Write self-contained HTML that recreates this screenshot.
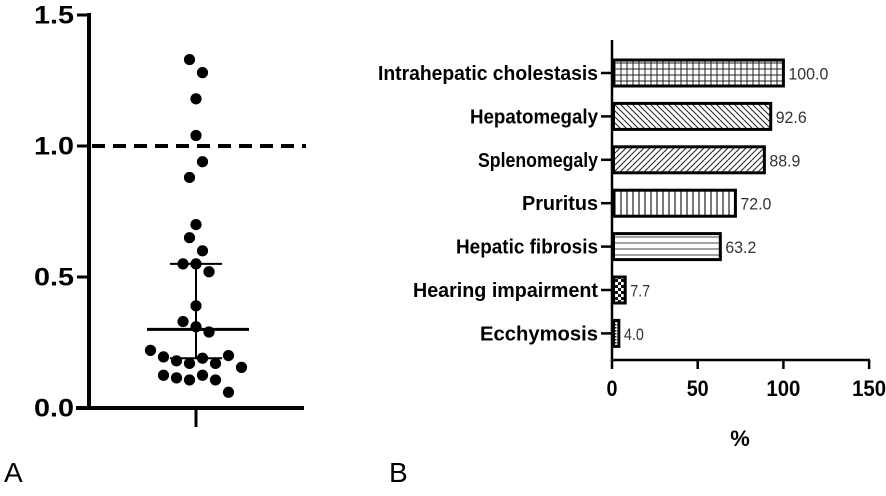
<!DOCTYPE html>
<html><head><meta charset="utf-8"><style>
html,body{margin:0;padding:0;background:#fff;}
svg{display:block;font-family:"Liberation Sans",Arial,sans-serif;}
</style></head><body>
<svg id="chart" width="886" height="496" viewBox="0 0 886 496" xmlns="http://www.w3.org/2000/svg">
<defs>
<pattern id="p0" patternUnits="userSpaceOnUse" width="6" height="6"><rect width="6" height="6" fill="#fff"/><path d="M3 0V6M0 3H6" stroke="#222" stroke-width="1"/></pattern>
<pattern id="p1" patternUnits="userSpaceOnUse" width="6" height="6"><rect width="6" height="6" fill="#fff"/><path d="M0 0L6 6M-3 3L3 9M3 -3L9 3" stroke="#222" stroke-width="1"/></pattern>
<pattern id="p2" patternUnits="userSpaceOnUse" width="6" height="6"><rect width="6" height="6" fill="#fff"/><path d="M0 6L6 0M-3 3L3 -3M3 9L9 3" stroke="#222" stroke-width="1"/></pattern>
<pattern id="p3" patternUnits="userSpaceOnUse" width="6" height="6"><rect width="6" height="6" fill="#fff"/><path d="M3 0V6" stroke="#222" stroke-width="1.2"/></pattern>
<pattern id="p4" patternUnits="userSpaceOnUse" width="6" height="6"><rect width="6" height="6" fill="#fff"/><path d="M0 3H6" stroke="#444" stroke-width="1"/></pattern>
<pattern id="p5" patternUnits="userSpaceOnUse" width="6" height="6"><rect width="6" height="6" fill="#fff"/><rect width="3" height="3" fill="#111"/><rect x="3" y="3" width="3" height="3" fill="#111"/></pattern>
<pattern id="p6" patternUnits="userSpaceOnUse" width="3" height="3"><rect width="3" height="3" fill="#fff"/><rect width="1.5" height="1.5" fill="#222"/></pattern>
</defs>
<g id="left"></g>
<g id="right"></g>
<text x="4" y="482" font-size="28">A</text>
<text x="389" y="482" font-size="28">B</text>
</svg>
<script>
// Panel A data
const dotValues = [1.33,1.28,1.18,1.04,0.94,0.88,0.70,0.65,0.60,0.55,0.55,0.52,0.39,0.33,0.31,0.29,0.22,0.195,0.18,0.17,0.19,0.17,0.20,0.155,0.125,0.115,0.107,0.125,0.107,0.06];
const dotCols = [-0.5,0.5,0,0,0.5,-0.5,0,-0.5,0.5,-1,0,1,0,-1,0,1,-3.5,-2.5,-1.5,-0.5,0.5,1.5,2.5,3.5,-2.5,-1.5,-0.5,0.5,1.5,2.5];
const medianValue = 0.30;
const q1Value = 0.19;
const q3Value = 0.55;
const refLineValue = 1.0;
const yTicksA = [0, 0.5, 1.0, 1.5];
const yTickLabelsA = ["0.0","0.5","1.0","1.5"];
// Panel B data
const categories = ["Intrahepatic cholestasis","Hepatomegaly","Splenomegaly","Pruritus","Hepatic fibrosis","Hearing impairment","Ecchymosis"];
const percents = [100.0,92.6,88.9,72.0,63.2,7.7,4.0];
const percentLabels = ["100.0","92.6","88.9","72.0","63.2","7.7","4.0"];
const xTicksB = [0,50,100,150];
const xTickLabelsB = ["0","50","100","150"];

const NS="http://www.w3.org/2000/svg";
function mk(parent,tag,attrs,text){const e=document.createElementNS(NS,tag);for(const k in attrs)e.setAttribute(k,attrs[k]);if(text!==undefined)e.textContent=text;parent.appendChild(e);return e;}

// ---- Panel A
const L=document.getElementById('left');
const yA=v=>408-v*262;
const cx=196, colStep=13;
let e;
e=mk(L,'line',{x1:89,y1:13,x2:89,y2:410,stroke:'#000','stroke-width':4});


e=mk(L,'line',{x1:76,y1:408,x2:304,y2:408,stroke:'#000','stroke-width':4});


e=mk(L,'line',{x1:cx,y1:408,x2:cx,y2:427,stroke:'#000','stroke-width':3});


yTicksA.forEach((t,i)=>{
  e=mk(L,'line',{x1:77,y1:yA(t),x2:89,y2:yA(t),stroke:'#000','stroke-width':3});
  
  
  e=mk(L,'text',{x:74,y:yA(t)+8.5,'text-anchor':'end','font-size':25,'font-weight':'bold',textLength:40,lengthAdjust:'spacingAndGlyphs'},yTickLabelsA[i]);
  
  
});
e=mk(L,'line',{x1:92,y1:yA(refLineValue),x2:306,y2:yA(refLineValue),stroke:'#000','stroke-width':4,'stroke-dasharray':'13 8'});


dotValues.forEach((v,i)=>{
  e=mk(L,'circle',{cx:cx+dotCols[i]*colStep,cy:yA(v),r:5.6,fill:'#000'});
  
  
});
e=mk(L,'line',{x1:cx,y1:yA(q3Value),x2:cx,y2:yA(q1Value),stroke:'#000','stroke-width':2});


[q1Value,q3Value].forEach(q=>{
  e=mk(L,'line',{x1:170,y1:yA(q),x2:222,y2:yA(q),stroke:'#000','stroke-width':2});
  
  
});
e=mk(L,'line',{x1:147,y1:yA(medianValue),x2:249,y2:yA(medianValue),stroke:'#000','stroke-width':3});



// ---- Panel B
const R=document.getElementById('right');
const xB=v=>612+v*1.714;
const yB=i=>73+i*43.4;
const barH=26;
e=mk(R,'line',{x1:612,y1:40,x2:612,y2:362,stroke:'#000','stroke-width':2.5});


e=mk(R,'line',{x1:611,y1:360,x2:870,y2:360,stroke:'#000','stroke-width':2.5});


const tickW=[11,22,34,34];
xTicksB.forEach((t,i)=>{
  e=mk(R,'line',{x1:xB(t),y1:360,x2:xB(t),y2:369,stroke:'#000','stroke-width':2.5});
  
  
  e=mk(R,'text',{x:xB(t),y:396,'text-anchor':'middle','font-size':22,'font-weight':'bold',textLength:tickW[i],lengthAdjust:'spacingAndGlyphs'},xTickLabelsB[i]);
  
  
});
e=mk(R,'text',{x:740,y:446,'text-anchor':'middle','font-size':22,'font-weight':'bold'},'%');


const catW=[220,128,120,76,142,185,118];
const valW=[40,31,31,31,31,20,20];
categories.forEach((c,i)=>{
  const y=yB(i);
  e=mk(R,'line',{x1:601,y1:y,x2:612,y2:y,stroke:'#000','stroke-width':2.5});
  
  
  e=mk(R,'text',{x:598,y:y+7,'text-anchor':'end','font-size':20,'font-weight':'bold',textLength:catW[i],lengthAdjust:'spacingAndGlyphs'},c);
  
  
  e=mk(R,'rect',{x:613.5,y:y-barH/2,width:xB(percents[i])-613.5,height:barH,fill:'url(#p'+i+')',stroke:'#000','stroke-width':3});
  
  
  e=mk(R,'text',{x:xB(percents[i])+5,y:y+6.5,'font-size':17,fill:'#333',textLength:valW[i],lengthAdjust:'spacingAndGlyphs'},percentLabels[i]);
  
  
});
</script>
</body></html>
